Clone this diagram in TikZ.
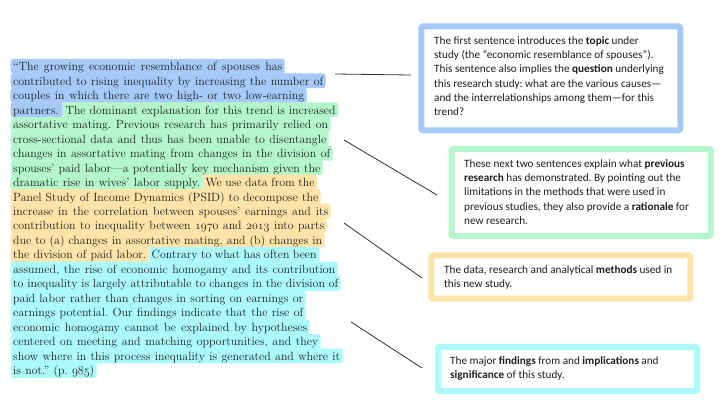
\documentclass[tikz,border=0pt]{standalone}
\usepackage{fontspec}
\newfontfamily\boxfont{Carlito}
\definecolor{hlblue}{RGB}{165,201,248}
\definecolor{hlgreen}{RGB}{178,246,201}
\definecolor{hlyellow}{RGB}{253,227,167}
\definecolor{hlcyan}{RGB}{172,249,252}
\definecolor{txtcol}{RGB}{30,30,30}
\definecolor{linecol}{RGB}{50,50,50}
\newcommand{\osn}[1]{{\fontencoding{OML}\fontfamily{cmm}\fontseries{m}\fontshape{it}\selectfont #1}}
\newcommand{\hlseg}[2]{\makebox[#1pt][s]{#2}}
\frenchspacing
\tikzset{
  hl/.style={anchor=base west, inner xsep=2.5pt, inner ysep=0pt, text height=11.8pt, text depth=3pt,
    rounded corners=2.5pt, text=txtcol, font=\fontsize{11.9}{14.48}\selectfont\frenchspacing},
  hlb/.style={hl, fill=hlblue},
  hlg/.style={hl, fill=hlgreen},
  hly/.style={hl, fill=hlyellow},
  hlc/.style={hl, fill=hlcyan},
  notebox/.style={draw=#1, line width=6pt, rounded corners=2pt, minimum width=259pt, inner sep=0pt},
  boxtext/.style={anchor=base west, inner sep=0pt, text=txtcol, font=\boxfont\fontsize{11.2}{14.3}\selectfont},
  conn/.style={draw=linecol, line width=0.8pt},
}
\begin{document}
\begin{tikzpicture}[x=1pt,y=-1pt]
\useasboundingbox (0,0) rectangle (726,408);
\fill[white] (0,0) rectangle (726,408);
% main text
\node[hlb] (l1) at (10.5,70.70) {\hlseg{269}{“The growing economic resemblance of spouses has}};
\node[hlb] (l2) at (10.5,85.18) {\hlseg{310}{contributed to rising inequality by increasing the number of}};
\node[hlb] (l3) at (10.5,99.66) {\hlseg{291}{couples in which there are two high- or two low-earning}};
\node[hlb] (l4a) at (10.5,114.14) {\hlseg{47}{partners.}};
\node[hlg] (l4b) at (l4a.base east) {\hlseg{270}{The dominant explanation for this trend is increased}};
\node[hlg] (l5) at (10.5,128.62) {\hlseg{315}{assortative mating. Previous research has primarily relied on}};
\node[hlg] (l6) at (10.5,143.10) {\hlseg{313}{cross-sectional data and thus has been unable to disentangle}};
\node[hlg] (l7) at (10.5,157.58) {\hlseg{317}{changes in assortative mating from changes in the division of}};
\node[hlg] (l8) at (10.5,172.06) {\hlseg{307}{spouses’ paid labor—a potentially key mechanism given the}};
\node[hlg] (l9a) at (10.5,186.54) {\hlseg{187}{dramatic rise in wives’ labor supply.}};
\node[hly] (l9b) at (l9a.base east) {\hlseg{109}{We use data from the}};
\node[hly] (l10) at (10.5,201.02) {\hlseg{305}{Panel Study of Income Dynamics (PSID) to decompose the}};
\node[hly] (l11) at (10.5,215.50) {\hlseg{315}{increase in the correlation between spouses’ earnings and its}};
\node[hly] (l12) at (10.5,229.98) {\hlseg{311}{contribution to inequality between \osn{1970} and \osn{2013} into parts}};
\node[hly] (l13) at (10.5,244.46) {\hlseg{309}{due to (a) changes in assortative mating, and (b) changes in}};
\node[hly] (l14a) at (10.5,258.94) {\hlseg{133}{the division of paid labor.}};
\node[hlc] (l14b) at (l14a.base east) {\hlseg{165}{Contrary to what has often been}};
\node[hlc] (l15) at (10.5,273.42) {\hlseg{322}{assumed, the rise of economic homogamy and its contribution}};
\node[hlc] (l16) at (10.5,287.90) {\hlseg{325}{to inequality is largely attributable to changes in the division of}};
\node[hlc] (l17) at (10.5,302.38) {\hlseg{290}{paid labor rather than changes in sorting on earnings or}};
\node[hlc] (l18) at (10.5,316.86) {\hlseg{290}{earnings potential. Our findings indicate that the rise of}};
\node[hlc] (l19) at (10.5,331.34) {\hlseg{294}{economic homogamy cannot be explained by hypotheses}};
\node[hlc] (l20) at (10.5,345.82) {\hlseg{305}{centered on meeting and matching opportunities, and they}};
\node[hlc] (l21) at (10.5,360.30) {\hlseg{327}{show where in this process inequality is generated and where it}};
\node[hlc] (l22) at (10.5,374.78) {\hlseg{81}{is not.” (p. \osn{985})}};
% boxes
\node[notebox=hlblue, minimum height=104pt] (b1) at (550.8,78.3) {};
\node[notebox=hlgreen, minimum height=87pt] (b2) at (581.2,192.5) {};
\node[notebox=hlyellow, minimum height=43.4pt] (b3) at (560.8,277) {};
\node[notebox=hlcyan, minimum height=44pt] (b4) at (567.5,369) {};
% box texts
\node[boxtext] (t1) at (434,44.3) {\begin{tabular}[t]{@{}l@{}}The first sentence introduces the \textbf{topic} under\\ study (the “economic resemblance of spouses”).\\ This sentence also implies the \textbf{question} underlying\\ this research study: what are the various causes—\\ and the interrelationships among them—for this\\ trend?\end{tabular}};
\node[boxtext] (t2) at (464,167.3) {\begin{tabular}[t]{@{}l@{}}These next two sentences explain what \textbf{previous}\\ \textbf{research} has demonstrated. By pointing out the\\ limitations in the methods that were used in\\ previous studies, they also provide a \textbf{rationale} for\\ new research.\end{tabular}};
\node[boxtext] (t3) at (444,273.3) {\begin{tabular}[t]{@{}l@{}}The data, research and analytical \textbf{methods} used in\\ this new study.\end{tabular}};
\node[boxtext] (t4) at (450,364) {\begin{tabular}[t]{@{}l@{}}The major \textbf{findings} from and \textbf{implications} and\\ \textbf{significance} of this study.\end{tabular}};
% connectors
\coordinate (s1) at (335,74);
\coordinate (e1) at (411,75);
\coordinate (s2) at (344,140);
\coordinate (e2) at (437,195);
\coordinate (s3) at (344,223);
\coordinate (e3) at (422,278);
\coordinate (s4) at (351,322);
\coordinate (e4) at (422,368);
\draw[conn] (s1) -- (e1);
\draw[conn] (s2) -- (e2);
\draw[conn] (s3) -- (e3);
\draw[conn] (s4) -- (e4);
\end{tikzpicture}
\end{document}
